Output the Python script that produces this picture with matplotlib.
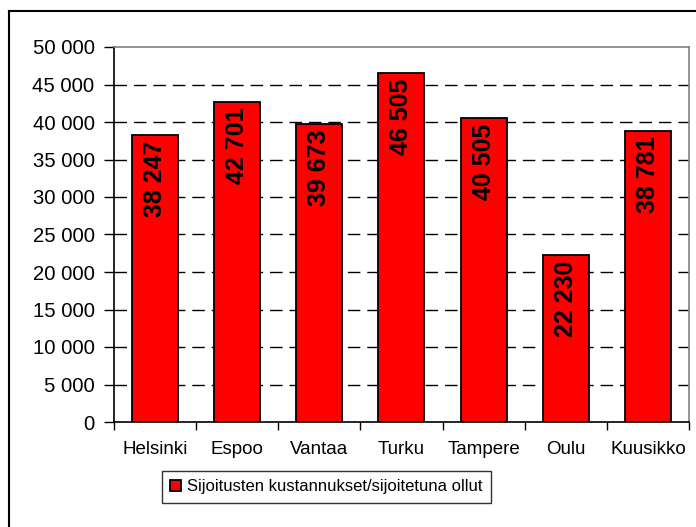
import matplotlib
matplotlib.use("Agg")
import matplotlib.pyplot as plt
from matplotlib.lines import Line2D
from matplotlib.patches import Patch
from matplotlib.ticker import FuncFormatter, FixedLocator

plt.rcParams["font.family"] = ["Liberation Sans", "DejaVu Sans"]

cities = ["Helsinki", "Espoo", "Vantaa", "Turku", "Tampere", "Oulu", "Kuusikko"]
values = [38247, 42701, 39673, 46505, 40505, 22230, 38781]
series_name = "Sijoitusten kustannukset/sijoitetuna ollut"
yticks = list(range(0, 50001, 5000))


def spaced(v, pos=None):
    return "{:,}".format(int(v)).replace(",", " ")


fig = plt.figure(figsize=(6.96, 5.27), dpi=100)
ax = fig.add_axes([114 / 696, 1 - 422 / 527, (689 - 114) / 696, (422 - 47) / 527])

x = range(len(cities))
bars = ax.bar(x, values, width=0.56, color="#ff0000", edgecolor="black", linewidth=1.3,
              zorder=3, label=series_name)

for xi, v in zip(x, values):
    ax.text(xi, v - 700, spaced(v), rotation=90, ha="center", va="top",
            fontsize=18, fontweight="bold", color="black", zorder=4)

ax.set_xlim(-0.5, len(cities) - 0.5)
ax.set_ylim(0, 50000)
ax.set_yticks(yticks)
ax.yaxis.set_major_formatter(FuncFormatter(spaced))
ax.tick_params(axis="y", direction="out", length=7, width=1, labelsize=14.6, pad=7)

# category labels centred, tick marks on category boundaries
ax.set_xticks(list(x))
ax.set_xticklabels(cities, fontsize=13.5)
ax.tick_params(axis="x", length=0, pad=14)
ax.xaxis.set_minor_locator(FixedLocator([i - 0.5 for i in range(len(cities) + 1)]))
ax.tick_params(axis="x", which="minor", direction="out", length=6, width=1)

for y in yticks[1:-1]:
    ax.axhline(y, color="black", linestyle=(0, (9, 5)), linewidth=1, zorder=1)

ax.spines["left"].set_color("black")
ax.spines["bottom"].set_color("black")
ax.spines["top"].set_color("#808080")
ax.spines["right"].set_color("#808080")
for s in ax.spines.values():
    s.set_linewidth(1.2)

handle = Patch(facecolor="#ff0000", edgecolor="black", linewidth=1.3)
leg = fig.legend([handle], [series_name], loc="center",
                 bbox_to_anchor=((169 + 484) / 2 / 696, 1 - 487 / 527),
                 fontsize=12, frameon=True, fancybox=False, handlelength=0.65,
                 handleheight=0.65, handletextpad=0.35, borderpad=0.5,
                 borderaxespad=0)
leg.get_frame().set_edgecolor("black")
leg.get_frame().set_linewidth(1)

# outer chart frame (right and bottom edges fall outside the image)
fig.add_artist(Line2D([9 / 696, 9 / 696], [0, 1 - 11 / 527], color="black", linewidth=1.5))
fig.add_artist(Line2D([9 / 696, 1], [1 - 11 / 527, 1 - 11 / 527], color="black", linewidth=1.5))

fig.savefig("out.png", dpi=100)
